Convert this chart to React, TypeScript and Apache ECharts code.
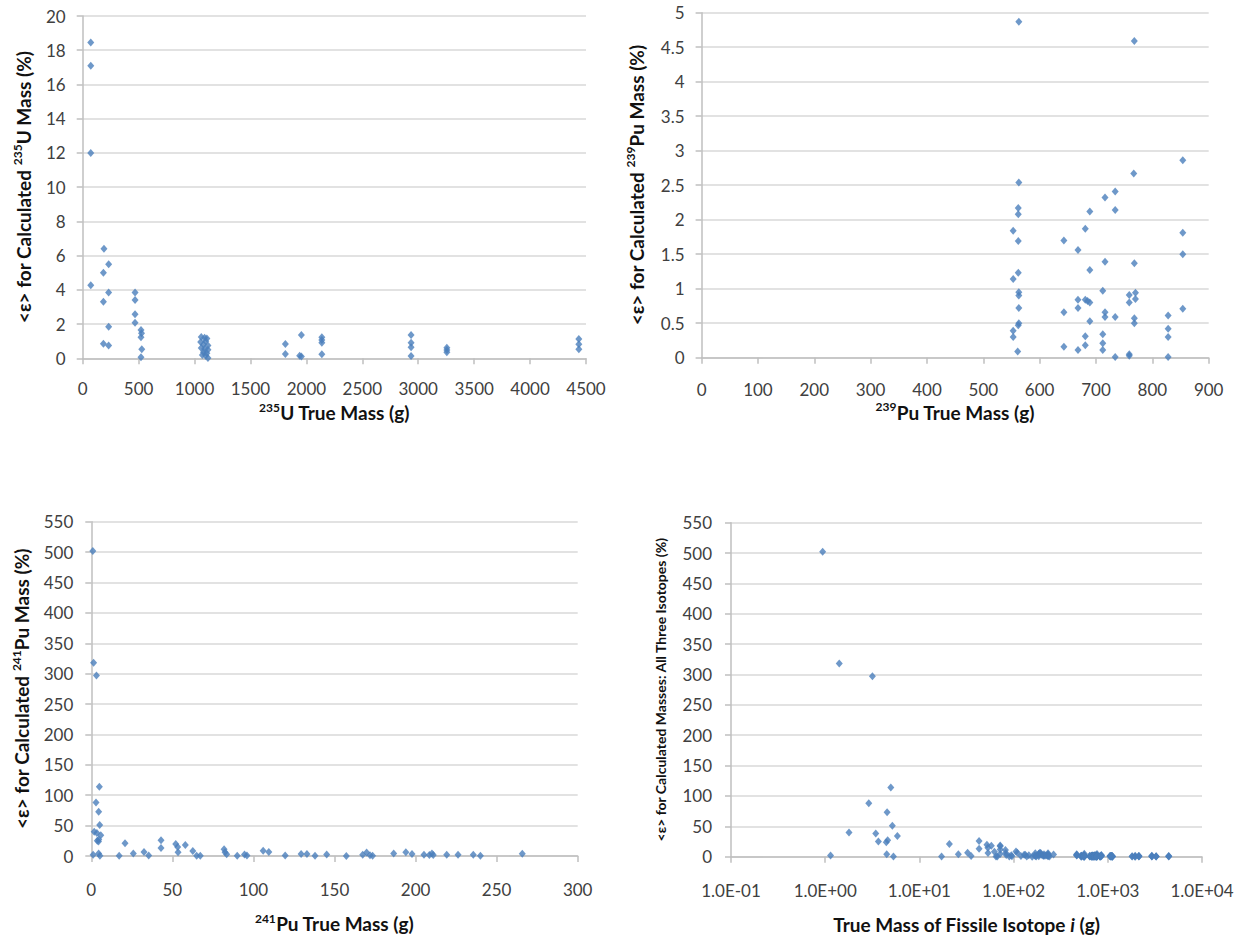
import React, { useEffect, useRef } from "react";
import * as echarts from "echarts";

// ---- Data ----
const u235: [number, number][] = [
  [72, 18.45], [72, 17.1], [72, 12.0], [72, 4.27],
  [190, 6.4], [185, 5.0], [185, 3.3], [185, 0.85],
  [232, 5.5], [232, 3.85], [232, 1.85], [232, 0.75],
  [468, 3.84], [468, 3.41], [468, 2.57], [468, 2.08],
  [521, 1.65], [526, 1.46], [521, 1.23], [528, 0.53], [521, 0.06],
  [1060, 1.25], [1090, 1.2], [1110, 1.15], [1055, 0.95], [1100, 1.0],
  [1080, 0.8], [1120, 0.75], [1060, 0.6], [1090, 0.55], [1120, 0.5],
  [1080, 0.35], [1110, 0.3], [1070, 0.2], [1100, 0.15], [1120, 0.02],
  [1812, 0.84], [1812, 0.25], [1955, 1.36], [1955, 0.1], [1940, 0.15],
  [2138, 1.23], [2138, 1.07], [2138, 0.91], [2138, 0.23],
  [2936, 1.36], [2936, 0.91], [2936, 0.64], [2936, 0.13],
  [3256, 0.62], [3256, 0.49], [3256, 0.35],
  [4436, 1.13], [4436, 0.82], [4436, 0.53],
];

const pu239: [number, number][] = [
  [563, 4.87], [768, 4.59], [854, 2.86], [767, 2.67], [734, 2.41], [716, 2.32],
  [734, 2.14], [689, 2.12], [563, 2.54], [562, 2.17], [562, 2.08], [553, 1.84],
  [562, 1.69], [643, 1.7], [681, 1.87], [668, 1.56], [854, 1.81], [854, 1.5],
  [689, 1.27], [716, 1.39], [768, 1.37], [562, 1.23], [553, 1.14], [563, 0.95],
  [563, 0.9], [563, 0.72], [563, 0.5], [562, 0.47], [553, 0.39], [553, 0.3],
  [561, 0.09], [643, 0.66], [643, 0.16], [668, 0.84], [668, 0.72], [668, 0.11],
  [681, 0.84], [685, 0.82], [689, 0.8], [689, 0.53], [681, 0.31], [681, 0.18],
  [712, 0.97], [716, 0.66], [716, 0.59], [712, 0.34], [712, 0.21], [712, 0.11],
  [734, 0.59], [734, 0.01], [759, 0.91], [759, 0.8], [770, 0.94], [770, 0.85],
  [768, 0.57], [768, 0.5], [759, 0.05], [759, 0.03], [828, 0.61], [828, 0.42],
  [828, 0.3], [828, 0.01], [854, 0.71],
];

const pu241: [number, number][] = [
  [0.94, 502], [1.41, 318], [3.17, 297], [4.97, 114], [2.9, 88], [4.54, 73],
  [5.16, 51], [1.79, 40], [3.44, 38], [5.84, 34], [3.67, 25], [4.45, 24],
  [4.6, 27], [1.14, 2], [4.5, 4], [5.3, 0.5],
  [17.2, 0.5], [20.8, 21], [25.9, 4], [32.5, 6.6], [35.4, 1], [43, 25.8],
  [43, 13.2], [52.1, 19.6], [53.3, 14.8], [53.5, 6], [58, 18], [62.6, 8.2],
  [65, 0.5], [67.2, 0.3], [81.9, 11], [82.5, 6.2], [83.5, 2.7], [90, 0.3],
  [94.5, 2.5], [96, 0.8], [106, 8.7], [109.5, 6.4], [119.6, 1], [129.4, 3.3],
  [133, 3.3], [138, 0.3], [145.2, 2.5], [157.3, 0], [167.4, 2], [169.8, 5.8],
  [171.9, 1.2], [173.5, 0.5], [186.5, 4.3], [194, 6], [197.8, 3.3], [205.2, 2],
  [208.5, 1.5], [210.1, 4.2], [210.9, 1.5], [219.2, 2], [226.2, 2], [235.6, 2],
  [240, 0.5], [265.8, 3.8],
];

// All three isotopes combined (bottom-right panel)
const allIsotopes: [number, number][] = [...u235, ...pu239, ...pu241];

const FONT = "Lato";
const BLUE = "#4a7ebb";
const LABEL = "#404040";
const GRID = "#d9d9d9";
const AXIS = "#bfbfbf";

const expLabel = (v: number) => {
  const e = Math.round(Math.log10(v));
  return "1.0E" + (e < 0 ? "-" : "+") + String(Math.abs(e)).padStart(2, "0");
};

const richTitle = (size: number) => ({
  fontFamily: FONT,
  fontWeight: "bold" as const,
  fontSize: size,
  color: "#111",
  rich: {
    b: { fontFamily: FONT, fontWeight: "bold", fontSize: size, color: "#111", lineHeight: size + 4 },
    s: { fontFamily: FONT, fontWeight: "bold", fontSize: Math.round(size * 0.65), color: "#111", verticalAlign: "top", lineHeight: size + 4 },
    i: { fontFamily: FONT, fontWeight: "bold", fontStyle: "italic", fontSize: size, color: "#111", lineHeight: size + 4 },
  },
});

function valueAxis(
  gridIndex: number,
  min: number,
  max: number,
  interval: number,
  margin: number,
  split: boolean,
  name: string,
  nameGap: number,
  nameSize: number,
  isY: boolean
) {
  return {
    type: "value",
    gridIndex,
    min,
    max,
    interval,
    name,
    nameLocation: "middle",
    nameGap,
    nameRotate: isY ? 90 : 0,
    nameTextStyle: richTitle(nameSize),
    axisLine: { show: true, lineStyle: { color: AXIS, width: 1.5 } },
    axisTick: { show: true, inside: false, length: 6, lineStyle: { color: AXIS, width: 1.5 } },
    axisLabel: {
      fontFamily: FONT,
      fontSize: 17,
      color: LABEL,
      margin,
      formatter: (v: number) => String(v),
    },
    splitLine: { show: split, lineStyle: { color: GRID, width: 1.5 } },
  };
}

export default function App() {
  const ref = useRef<HTMLDivElement>(null);

  useEffect(() => {
    if (!ref.current) return;
    const chart = echarts.init(ref.current, null, { renderer: "svg" });

    const scatter = (idx: number, data: [number, number][]) => ({
      type: "scatter",
      xAxisIndex: idx,
      yAxisIndex: idx,
      data,
      symbol: "diamond",
      symbolSize: [7, 8],
      itemStyle: { color: BLUE },
    });

    const logX = {
      type: "log",
      gridIndex: 3,
      logBase: 10,
      min: 0.1,
      max: 10000,
      name: "{b|True Mass of Fissile Isotope }{i|i}{b| (g)}",
      nameLocation: "middle",
      nameGap: 56,
      nameTextStyle: richTitle(19),
      axisLine: { show: true, lineStyle: { color: AXIS, width: 1.5 } },
      axisTick: { show: true, length: 6, lineStyle: { color: AXIS, width: 1.5 } },
      minorTick: { show: false },
      axisLabel: { fontFamily: FONT, fontSize: 17, color: LABEL, margin: 25, formatter: expLabel },
      splitLine: { show: false },
    };

    chart.setOption({
      animation: false,
      backgroundColor: "#ffffff",
      grid: [
        { left: 82.7, top: 16, width: 503.3, height: 342.3 },
        { left: 701.6, top: 12.7, width: 507.1, height: 345 },
        { left: 91.3, top: 521.7, width: 486.4, height: 334.3 },
        { left: 731, top: 522.7, width: 471, height: 334 },
      ],
      xAxis: [
        valueAxis(0, 0, 4500, 500, 22, false, "{s|235}{b|U True Mass (g)}", 43, 19, false),
        valueAxis(1, 0, 900, 100, 23, false, "{s|239}{b|Pu True Mass (g)}", 43, 19, false),
        valueAxis(2, 0, 300, 50, 25, false, "{s|241}{b|Pu True Mass (g)}", 56, 19, false),
        logX,
      ],
      yAxis: [
        valueAxis(0, 0, 20, 2, 17, true, "{b|<ε> for Calculated }{s|235}{b|U Mass (%)}", 48, 19, true),
        valueAxis(1, 0, 5, 0.5, 17, true, "{b|<ε> for Calculated }{s|239}{b|Pu Mass (%)}", 54, 19, true),
        valueAxis(2, 0, 550, 50, 18, true, "{b|<ε> for Calculated }{s|241}{b|Pu Mass (%)}", 58, 19, true),
        valueAxis(3, 0, 550, 50, 19, true, "{b|<ε> for Calculated Masses: All Three Isotopes (%)}", 62, 14, true),
      ],
      series: [
        scatter(0, u235),
        scatter(1, pu239),
        scatter(2, pu241),
        scatter(3, allIsotopes),
      ],
    });

    return () => chart.dispose();
  }, []);

  return (
    <div
      ref={ref}
      style={{ position: "fixed", left: 0, top: 0, width: 1246, height: 936, background: "#fff" }}
    />
  );
}
